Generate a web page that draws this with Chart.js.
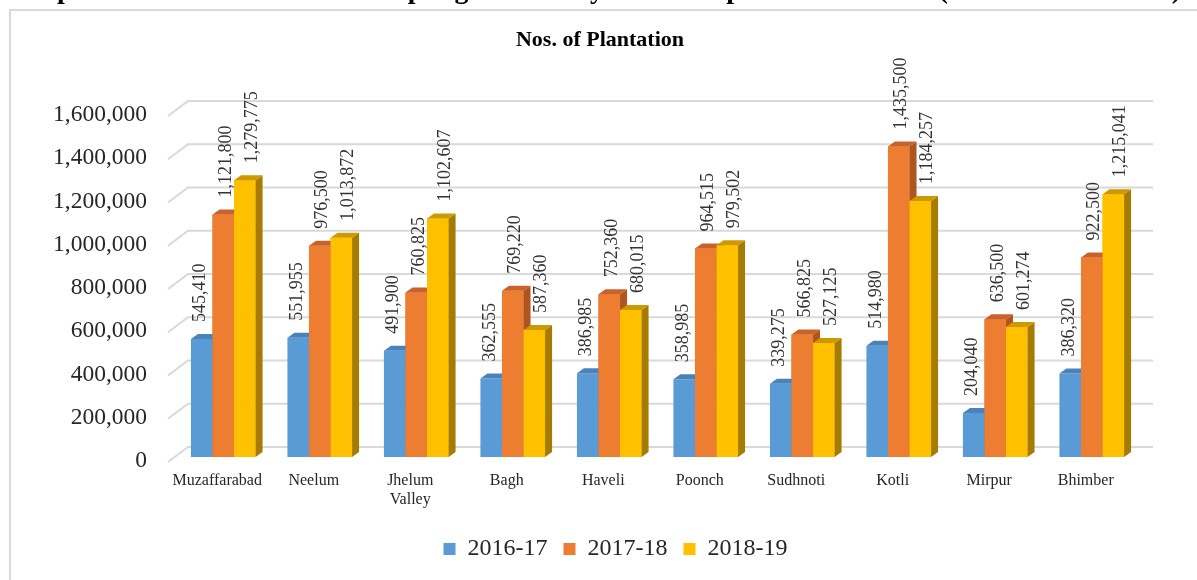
<!DOCTYPE html>
<html>
<head>
<meta charset="utf-8">
<style>
  html, body { margin: 0; padding: 0; background: #fff; }
  canvas { display: block; }
</style>
<script src="https://cdn.jsdelivr.net/npm/chart.js@4.4.1/dist/chart.umd.min.js"></script>
</head>
<body>
<canvas id="c" width="1197" height="580"></canvas>
<script>
// ---- data ----
const headerText = "Graph 4: Division wise Nos. of Sapling Planted by Forest Department in AJK (2016-17 to 2018-19)";
const chartTitle = "Nos. of Plantation";
const categories = ["Muzaffarabad", "Neelum", ["Jhelum", "Valley"], "Bagh", "Haveli", "Poonch", "Sudhnoti", "Kotli", "Mirpur", "Bhimber"];
const seriesNames = ["2016-17", "2017-18", "2018-19"];
const values2016 = [545410, 551955, 491900, 362555, 386985, 358985, 339275, 514980, 204040, 386320];
const values2017 = [1121800, 976500, 760825, 769220, 752360, 964515, 566825, 1435500, 636500, 922500];
const values2018 = [1279775, 1013872, 1102607, 587360, 680015, 979502, 527125, 1184257, 601274, 1215041];
const yTicks = [0, 200000, 400000, 600000, 800000, 1000000, 1200000, 1400000, 1600000];

// ---- styles ----
const SERIF = '"Liberation Serif", "Times New Roman", serif';
const frontColors = ["#5b9bd5", "#ed7d31", "#ffc000"];
const topColors = ["#4a83bb", "#c9622a", "#cc9a00"];
const sideColors = ["#3d6e9e", "#b0551f", "#a67c00"];
const labelShift = [-1, 3, 7];
const DX = 7, DY = 5;

const fmt = v => Number(v).toLocaleString('en-US');

const depthPlugin = {
  id: 'depth3d',
  beforeDraw(chart) {
    const ctx = chart.ctx;
    ctx.save();
    ctx.fillStyle = '#ffffff';
    ctx.fillRect(0, 0, chart.width, chart.height);
    ctx.strokeStyle = '#d9d9d9';
    ctx.lineWidth = 2;
    ctx.strokeRect(10, 10, chart.width + 40, chart.height + 40);
    ctx.fillStyle = '#000';
    ctx.textAlign = 'center';
    ctx.textBaseline = 'alphabetic';
    ctx.font = 'bold 28px ' + SERIF;
    ctx.fillText(headerText, 595, -2);
    ctx.font = 'bold 22px ' + SERIF;
    ctx.textBaseline = 'middle';
    ctx.fillText(chartTitle, 600, 40);
    ctx.restore();
  },
  beforeDatasetsDraw(chart) {
    const { ctx, chartArea, scales: { y } } = chart;
    ctx.save();
    ctx.strokeStyle = '#d9d9d9';
    ctx.lineWidth = 2;
    for (const t of y.ticks) {
      const py = y.getPixelForValue(t.value);
      ctx.beginPath();
      ctx.moveTo(chartArea.left - 7, py + 5);
      ctx.lineTo(chartArea.left + 13, py - 10);
      ctx.lineTo(chartArea.right + 13, py - 10);
      ctx.stroke();
    }
    ctx.restore();
  },
  afterDatasetsDraw(chart) {
    const ctx = chart.ctx;
    const n = chart.data.labels.length;
    const nd = chart.data.datasets.length;
    ctx.save();
    for (let j = 0; j < n; j++) {
      for (let i = 0; i < nd; i++) {
        const el = chart.getDatasetMeta(i).data[j];
        const { x, y, base, width } = el.getProps(['x', 'y', 'base', 'width'], true);
        const l = x - width / 2, r = x + width / 2;
        ctx.fillStyle = sideColors[i];
        ctx.beginPath();
        ctx.moveTo(r, y); ctx.lineTo(r + DX, y - DY); ctx.lineTo(r + DX, base - DY); ctx.lineTo(r, base);
        ctx.closePath(); ctx.fill();
        ctx.fillStyle = topColors[i];
        ctx.beginPath();
        ctx.moveTo(l, y); ctx.lineTo(l + DX, y - DY); ctx.lineTo(r + DX, y - DY); ctx.lineTo(r, y);
        ctx.closePath(); ctx.fill();
        if (i + 1 < nd) {
          chart.getDatasetMeta(i + 1).data[j].draw(ctx);
        }
      }
    }
    ctx.fillStyle = '#333333';
    ctx.font = '18px ' + SERIF;
    ctx.textAlign = 'left';
    ctx.textBaseline = 'middle';
    for (let i = 0; i < nd; i++) {
      const meta = chart.getDatasetMeta(i);
      meta.data.forEach((el, j) => {
        const { x, y } = el.getProps(['x', 'y'], true);
        ctx.save();
        ctx.translate(x + labelShift[i], y - 17);
        ctx.rotate(-Math.PI / 2);
        ctx.fillText(fmt(chart.data.datasets[i].data[j]), 0, 0);
        ctx.restore();
      });
    }
    ctx.restore();
  }
};

new Chart(document.getElementById('c'), {
  type: 'bar',
  data: {
    labels: categories,
    datasets: [
      { label: seriesNames[0], data: values2016, backgroundColor: frontColors[0] },
      { label: seriesNames[1], data: values2017, backgroundColor: frontColors[1] },
      { label: seriesNames[2], data: values2018, backgroundColor: frontColors[2] }
    ]
  },
  options: {
    responsive: false,
    animation: false,
    devicePixelRatio: 1,
    layout: { padding: { left: 34, right: 0, top: 111, bottom: 9 } },
    datasets: { bar: { categoryPercentage: 0.67, barPercentage: 1.0, borderWidth: 0 } },
    scales: {
      x: {
        grid: { display: false, drawTicks: false },
        border: { display: false },
        ticks: {
          color: '#262626',
          font: { family: SERIF, size: 16 },
          padding: 14,
          labelOffset: -6,
          maxRotation: 0,
          autoSkip: false
        },
        afterFit(scale) { scale.height = 64; }
      },
      y: {
        min: 0,
        max: 1600000,
        grid: { display: false, drawTicks: false },
        border: { display: false },
        afterBuildTicks(scale) { scale.ticks = yTicks.map(v => ({ value: v })); },
        ticks: {
          color: '#262626',
          font: { family: SERIF, size: 23.5 },
          padding: 28,
          labelOffset: 4,
          callback: v => fmt(v)
        },
        afterFit(scale) { scale.width = 141; }
      },
      yRight: {
        position: 'right',
        display: true,
        min: 0,
        max: 1,
        grid: { display: false, drawTicks: false },
        border: { display: false },
        ticks: { display: false },
        afterFit(scale) { scale.width = 57; }
      }
    },
    plugins: {
      title: { display: false },
      tooltip: { enabled: false },
      legend: {
        position: 'bottom',
        labels: {
          color: '#262626',
          font: { family: SERIF, size: 24 },
          boxWidth: 12,
          boxHeight: 12,
          padding: 16
        }
      }
    }
  },
  plugins: [depthPlugin]
});
</script>
</body>
</html>
